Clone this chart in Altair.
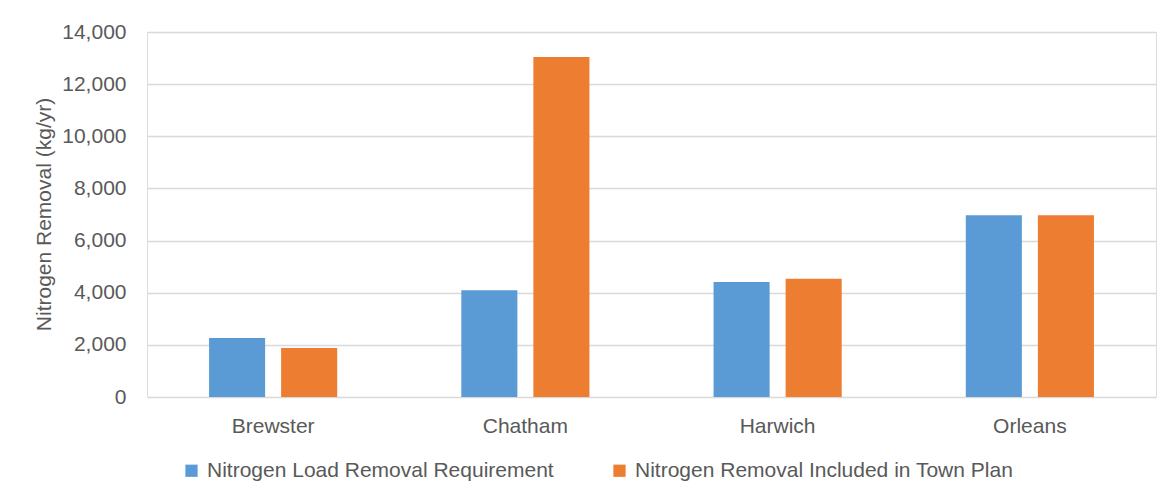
import altair as alt
import pandas as pd

towns = ["Brewster", "Chatham", "Harwich", "Orleans"]
requirement = [2260, 4090, 4410, 6970]
town_plan = [1880, 13040, 4540, 6970]
series_names = ["Nitrogen Load Removal Requirement", "Nitrogen Removal Included in Town Plan"]
series_colors = ["#5B9BD5", "#ED7D31"]
y_ticks = [0, 2000, 4000, 6000, 8000, 10000, 12000, 14000]

rows = []
for t, a, b in zip(towns, requirement, town_plan):
    rows.append({"Town": t, "Series": series_names[0], "Value": a})
    rows.append({"Town": t, "Series": series_names[1], "Value": b})
df = pd.DataFrame(rows)

FONT = "Liberation Sans"
TXT = "#595959"
FS = 21

chart = alt.Chart(df).mark_bar().encode(
    x=alt.X("Town:N", sort=towns,
            scale=alt.Scale(paddingInner=0.492, paddingOuter=0.246),
            axis=alt.Axis(title=None, labelAngle=0, ticks=False, domain=False, grid=False,
                          labelPadding=18, labelFontSize=FS, labelColor=TXT, labelFont=FONT)),
    xOffset=alt.XOffset("Series:N", sort=series_names,
                        scale=alt.Scale(paddingInner=0.222, paddingOuter=0)),
    y=alt.Y("Value:Q",
            scale=alt.Scale(domain=[0, 14000], nice=False),
            axis=alt.Axis(title="Nitrogen Removal (kg/yr)", values=y_ticks, format=",d",
                          ticks=False, domain=False, labelPadding=21,
                          labelFontSize=FS, labelColor=TXT, labelFont=FONT,
                          gridColor="#D9D9D9", gridWidth=1.5,
                          titleFontSize=FS, titleFont=FONT, titleColor=TXT,
                          titleFontWeight="normal", titleX=-103, titleY=182,
                          titleAngle=-90, titleBaseline="middle", titleAlign="center")),
    color=alt.Color("Series:N", sort=series_names,
                    scale=alt.Scale(domain=series_names, range=series_colors),
                    legend=alt.Legend(title=None, orient="none", legendX=34, legendY=428,
                                      direction="horizontal", symbolType="square",
                                      symbolSize=150, symbolStrokeWidth=0,
                                      labelFontSize=FS, labelColor=TXT, labelFont=FONT,
                                      labelLimit=0, labelOffset=5, columnPadding=55)),
).properties(
    width=1009, height=365,
    autosize=alt.AutoSizeParams(type="none"),
    padding={"left": 139, "top": 24, "right": 3, "bottom": 94},
).configure_view(strokeWidth=0).configure(background="white")

chart.save("out.html", embed_options={"renderer": "svg", "actions": False})
